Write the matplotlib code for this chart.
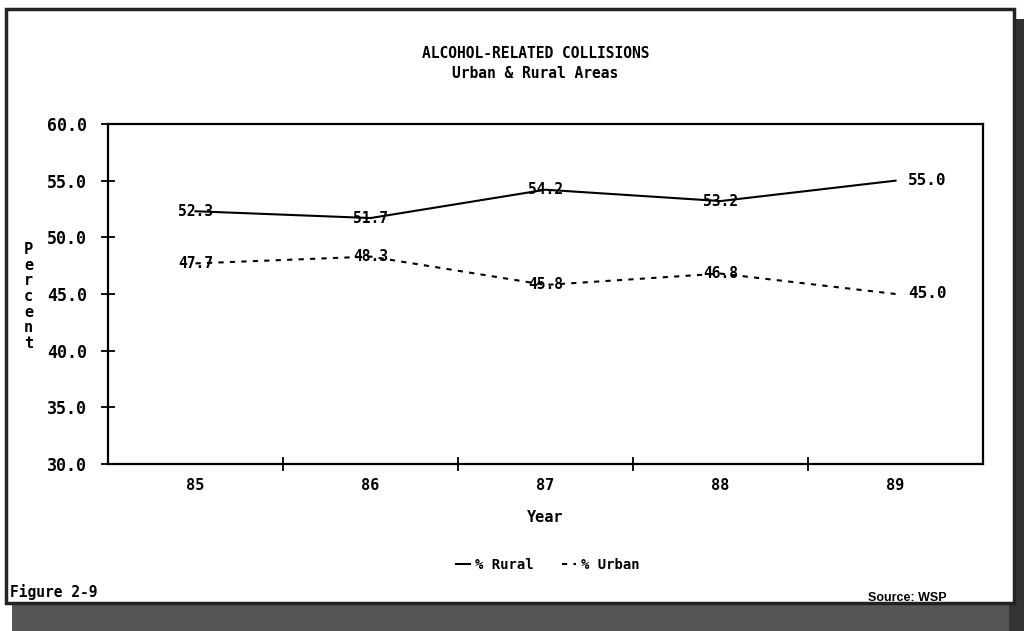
import numpy as np
import matplotlib
matplotlib.use("Agg")
import matplotlib.pyplot as plt
from matplotlib.patches import Rectangle

years = ["85", "86", "87", "88", "89"]
rural = [52.3, 51.7, 54.2, 53.2, 55.0]
urban = [47.7, 48.3, 45.8, 46.8, 45.0]
yticks = [30.0, 35.0, 40.0, 45.0, 50.0, 55.0, 60.0]

mono = "DejaVu Sans Mono"
plt.rcParams['font.family'] = mono
plt.rcParams['font.weight'] = 'bold'
plt.rcParams['axes.labelweight'] = 'bold'

fig = plt.figure(figsize=(10.24, 6.31), dpi=100)

# page frame with drop shadow
fig.patches.append(Rectangle((0.012, 0.0), 0.988, 0.045, transform=fig.transFigure,
                             facecolor='#555555', edgecolor='none', zorder=0))
fig.patches.append(Rectangle((0.985, 0.0), 0.015, 0.97, transform=fig.transFigure,
                             facecolor='#333333', edgecolor='none', zorder=0))
fig.patches.append(Rectangle((0.006, 0.045), 0.984, 0.94, transform=fig.transFigure,
                             facecolor='white', edgecolor='#222222', lw=2.5, zorder=1))

ax = fig.add_axes([0.1055, 0.2647, 0.8545, 0.5388])
ax.set_zorder(2)
x = np.arange(len(years))

ax.plot(x, rural, color='black', lw=1.5, label='% Rural')
ax.plot(x, urban, color='black', lw=1.5, linestyle=(0, (2.5, 3)), label='% Urban')

for i in range(len(years)):
    if i < len(years) - 1:
        ax.text(x[i], rural[i], f"{rural[i]:.1f}", ha='center', va='center', fontsize=10.5)
        ax.text(x[i], urban[i], f"{urban[i]:.1f}", ha='center', va='center', fontsize=10.5)
    else:
        ax.text(x[i] + 0.07, rural[i], f"{rural[i]:.1f}", ha='left', va='center', fontsize=11.5)
        ax.text(x[i] + 0.07, urban[i], f"{urban[i]:.1f}", ha='left', va='center', fontsize=11.5)

ax.set_xlim(-0.5, 4.5)
ax.set_ylim(30, 60)
ax.set_xticks(x)
ax.set_xticklabels(years, fontsize=11)
ax.set_xticks(np.arange(0.5, 4.5, 1.0), minor=True)
ax.tick_params(axis='x', which='major', length=0, pad=10)
ax.tick_params(axis='x', which='minor', direction='inout', length=10, width=1.3)
ax.set_yticks(yticks)
ax.set_yticklabels([f"{v:.1f}" for v in yticks], fontsize=12)
ax.tick_params(axis='y', direction='inout', length=10, width=1.3, pad=10)
for s in ax.spines.values():
    s.set_linewidth(1.6)

ax.set_xlabel("Year", fontsize=11, labelpad=12)

fig.text(0.523, 0.915, "ALCOHOL-RELATED COLLISIONS", ha='center', va='center', fontsize=10.5)
fig.text(0.523, 0.884, "Urban & Rural Areas", ha='center', va='center', fontsize=10.5)
fig.text(0.028, 0.53, "P\ne\nr\nc\ne\nn\nt", ha='center', va='center', fontsize=11,
         linespacing=1.05)

leg = fig.legend(loc='center', bbox_to_anchor=(0.535, 0.105), ncol=2, frameon=False,
                 handlelength=1.0, handletextpad=0.4, columnspacing=2.0, fontsize=10)

fig.text(0.010, 0.062, "Figure 2-9", ha='left', va='center', fontsize=10.5)
fig.text(0.848, 0.052, "Source: WSP", ha='left', va='center', fontsize=9,
         family='Liberation Sans', fontweight='bold')

fig.savefig("out.png", dpi=100)
